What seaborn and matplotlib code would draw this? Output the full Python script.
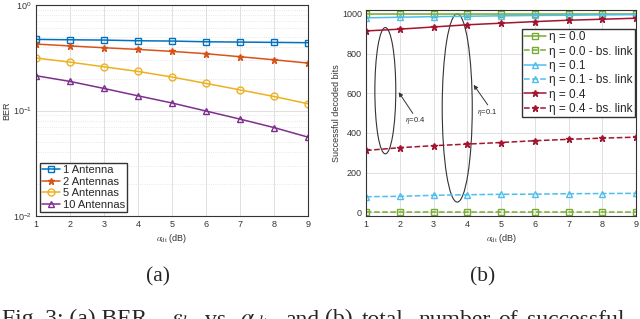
import numpy as np
import pandas as pd
import matplotlib
matplotlib.use("Agg")
import matplotlib.pyplot as plt
from matplotlib.patches import Ellipse
import seaborn as sns

# data
alpha_dt = [1, 2, 3, 4, 5, 6, 7, 8, 9]

ber_1ant = [0.473, 0.469, 0.466, 0.459, 0.456, 0.449, 0.446, 0.443, 0.440]
ber_2ant = [0.427, 0.410, 0.394, 0.380, 0.364, 0.346, 0.324, 0.303, 0.282]
ber_5ant = [0.315, 0.288, 0.260, 0.235, 0.208, 0.181, 0.157, 0.136, 0.116]
ber_10ant = [0.214, 0.189, 0.162, 0.138, 0.118, 0.099, 0.083, 0.069, 0.056]

bits_eta00 = [1000, 1000, 1000, 1000, 1000, 1000, 1000, 1000, 1000]
bits_eta00_bs = [0, 0, 0, 0, 0, 0, 0, 0, 0]
bits_eta01 = [980, 983, 986, 988, 990, 992, 993, 995, 996]
bits_eta01_bs = [79, 81, 86, 89, 91, 92, 94, 95, 96]
bits_eta04 = [914, 923, 934, 945, 953, 961, 968, 973, 978]
bits_eta04_bs = [312, 326, 336, 344, 352, 361, 368, 374, 379]

# caption words (justified line, cut off at the bottom)
caption_words = ["Fig. 3: (a) BER", r"$\epsilon_b$", "vs.", r"$\alpha_{dt}$", "and",
                 "(b)", "total", "number", "of", "successful"]
caption_x_px = [2, 171, 205, 240, 285, 325, 362, 418, 498, 527]

sns.set_style("whitegrid")
plt.rcParams['font.family'] = ['Liberation Sans', 'DejaVu Sans']
plt.rcParams['mathtext.fontset'] = 'stix'

fig = plt.figure(figsize=(6.4, 3.19), dpi=100)
ax1 = fig.add_axes([0.056, 0.323, 0.425, 0.661])
ax2 = fig.add_axes([0.572, 0.323, 0.422, 0.646])

# (a) BER
left_series = [
    ("1 Antenna", ber_1ant, "#0072BD", "s", "none"),
    ("2 Antennas", ber_2ant, "#D95319", "*", "#D95319"),
    ("5 Antennas", ber_5ant, "#EDB120", "o", "none"),
    ("10 Antennas", ber_10ant, "#7E2F8E", "^", "none"),
]
for name, vals, col, mk, mfc in left_series:
    sns.lineplot(x=alpha_dt, y=vals, ax=ax1, color=col, marker=mk, markersize=5,
                 markerfacecolor=mfc, markeredgecolor=col, markeredgewidth=1.0,
                 linewidth=1.1, label=name)

ax1.set_yscale("log")
ax1.set_ylim(1e-2, 1)
ax1.set_xlim(1, 9)
ax1.set_xticks(alpha_dt)
ax1.set_ylabel("BER", fontsize=6.5, labelpad=1)
ax1.set_xlabel(r"$\alpha_{\rm dt}$ (dB)", fontsize=6.5, labelpad=2)
ax1.grid(True, which="major", color="#e0e0e0", linewidth=0.7)
ax1.grid(True, which="minor", color="#e0e0e0", linewidth=0.6, linestyle=":")
ax1.legend(loc="lower left", fontsize=8, frameon=True, fancybox=False,
           edgecolor="#333333", framealpha=1, borderpad=0.2, labelspacing=0.15,
           handlelength=1.6, handletextpad=0.3, borderaxespad=0.35)

# (b) decoded bits
right_series = [
    ("η = 0.0", bits_eta00, "#77AC30", "s", "-"),
    ("η = 0.0 - bs. link", bits_eta00_bs, "#77AC30", "s", "--"),
    ("η = 0.1", bits_eta01, "#4DBEEE", "^", "-"),
    ("η = 0.1 - bs. link", bits_eta01_bs, "#4DBEEE", "^", "--"),
    ("η = 0.4", bits_eta04, "#A2142F", "*", "-"),
    ("η = 0.4 - bs. link", bits_eta04_bs, "#A2142F", "*", "--"),
]
for name, vals, col, mk, ls in right_series:
    mfc = col if mk == "*" else "none"
    sns.lineplot(x=alpha_dt, y=vals, ax=ax2, color=col, marker=mk, markersize=5,
                 markerfacecolor=mfc, markeredgecolor=col, markeredgewidth=1.0,
                 linewidth=1.1, linestyle=ls, label=name)

ax2.set_xlim(1, 9)
ax2.set_ylim(-18, 1020)
ax2.set_xticks(alpha_dt)
ax2.set_yticks([0, 200, 400, 600, 800, 1000])
ax2.set_ylabel("Successful decoded bits", fontsize=6.5, labelpad=1)
ax2.set_xlabel(r"$\alpha_{\rm dt}$ (dB)", fontsize=6.5, labelpad=2)
ax2.grid(True, color="#e0e0e0", linewidth=0.7)
ax2.legend(loc="upper right", bbox_to_anchor=(1.0, 0.914), fontsize=8.5, frameon=True,
           fancybox=False, edgecolor="#333333", framealpha=1, borderpad=0.2,
           labelspacing=0.2, handlelength=1.8, handletextpad=0.3, borderaxespad=0.1)

# annotations
ax2.add_patch(Ellipse((1.57, 613), 0.62, 636, fill=False, edgecolor="#333333", linewidth=0.8))
ax2.add_patch(Ellipse((3.7, 526), 0.89, 948, fill=False, edgecolor="#333333", linewidth=0.8))
ax2.annotate("", xy=(1.92, 617), xytext=(2.43, 487),
             arrowprops=dict(arrowstyle="-|>", color="#333333", lw=0.7, mutation_scale=6))
ax2.annotate("", xy=(4.14, 654), xytext=(4.65, 530),
             arrowprops=dict(arrowstyle="-|>", color="#333333", lw=0.7, mutation_scale=6))
ax2.text(2.46, 462, r"$\eta$=0.4", fontsize=5.5, ha="center", va="center")
ax2.text(4.6, 505, r"$\eta$=0.1", fontsize=5.5, ha="center", va="center")

for ax in (ax1, ax2):
    ax.tick_params(axis="both", which="both", labelsize=6.5, direction="in",
                   length=2.5, color="#444444", labelcolor="#333333", pad=3)
    ax.tick_params(axis="y", which="minor", length=1.5)
    for sp in ax.spines.values():
        sp.set_edgecolor("#333333")
        sp.set_linewidth(0.8)
    ax.set_facecolor("white")

for ax in (ax1, ax2):
    ax.yaxis.label.set_color("#333333")
    ax.xaxis.label.set_color("#333333")

fig.text(158 / 640, 1 - 281 / 319, "(a)", fontsize=15.5, family="Liberation Serif",
         ha="center", va="baseline")
fig.text(482.5 / 640, 1 - 281 / 319, "(b)", fontsize=15.5, family="Liberation Serif",
         ha="center", va="baseline")
for word, xp in zip(caption_words, caption_x_px):
    fig.text(xp / 640, 1 - 325.5 / 319, word, fontsize=17, family="Liberation Serif",
             ha="left", va="baseline")

fig.savefig("out.png", dpi=100)
